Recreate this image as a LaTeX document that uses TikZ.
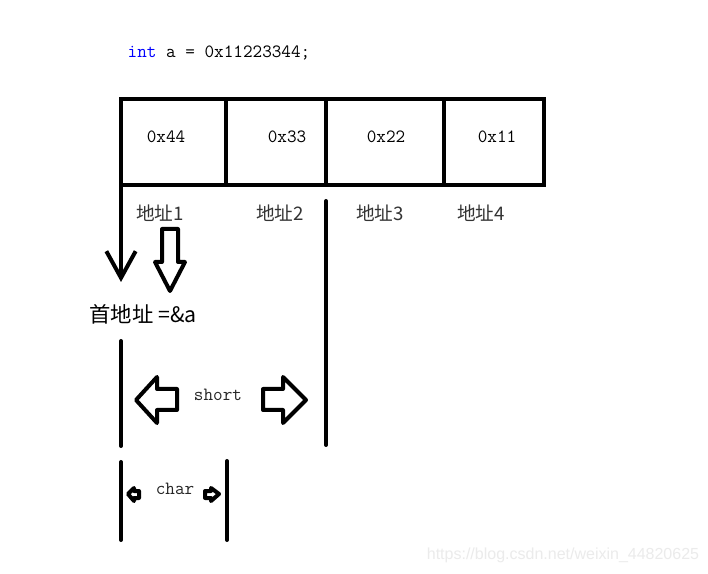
\documentclass[tikz,border=0pt]{standalone}
\usepackage{fontspec}
\newfontfamily\cjkfont{Noto Sans CJK SC}
\newfontfamily\urlfont{Liberation Sans}
\usetikzlibrary{arrows.meta}

\begin{document}
\begin{tikzpicture}[
      x=0.75pt, y=-0.75pt,
      thickline/.style={line width=3pt, line cap=round},
      hollow/.style={line width=3pt, line join=round},
      code/.style={font=\ttfamily\fontsize{14}{16}\selectfont, inner sep=0pt},
      hexval/.style={font=\ttfamily\fontsize{14}{16}\selectfont, inner sep=0pt},
      addr/.style={font=\cjkfont\fontsize{14}{16}\selectfont, inner sep=0pt, text=black!80},
      sizelabel/.style={font=\ttfamily\fontsize{14}{16}\selectfont, inner sep=0pt, text=black!85},
      arrow/.style={-{Straight Barb[length=20pt, width=22pt]}, line width=3pt}
    ]
    \fill[white] (0,0) rectangle (708,574);
    \useasboundingbox (0,0) rectangle (708,574);

    % declaration
    \node[code] (decl) at (219,53) {\textcolor{blue}{int} a = 0x11223344;};

    % memory cells
    \draw[line width=3.5pt] (121,99) rectangle (544,185);
    \draw[line width=3pt] (226,99) -- (226,185);
    \draw[line width=3pt] (326,99) -- (326,185);
    \draw[line width=3pt] (444,99) -- (444,185);

    \node[hexval] (b44) at (166,137) {0x44};
    \node[hexval] (b33) at (287,137) {0x33};
    \node[hexval] (b22) at (386,137) {0x22};
    \node[hexval] (b11) at (497,137) {0x11};

    \node[addr] (addr1) at (160,213) {地址1};
    \node[addr] (addr2) at (280,213) {地址2};
    \node[addr] (addr3) at (380,213) {地址3};
    \node[addr] (addr4) at (481,213) {地址4};

    % first address
    \coordinate (start) at (121,185);
    \coordinate (tip) at (121,282);
    \draw[arrow] (start) -- (tip);
    \draw[hollow] (162,229) -- (178,229) -- (178,262) -- (185,262) -- (170,291)
      -- (155,262) -- (162,262) -- cycle;
    \node[font=\cjkfont\fontsize{16}{18}\selectfont, inner sep=0pt] (first) at (143,314) {首地址 =\&a};

    % short
    \draw[thickline] (326,201) -- (326,445);
    \draw[thickline] (121,341) -- (121,446);
    \draw[hollow] (177,389) -- (177,410) -- (157,410) -- (157,423) -- (136,400)
      -- (157,377) -- (157,389) -- cycle;
    \draw[hollow] (263,389) -- (283,389) -- (283,377) -- (306,400) -- (283,423)
      -- (283,410) -- (263,410) -- cycle;
    \node[sizelabel] (short) at (218,395) {short};

    % char
    \draw[thickline] (121,462) -- (121,540);
    \draw[thickline] (227,461) -- (227,540);
    \draw[hollow] (128,494) -- (134,488) -- (134,491) -- (139,491) -- (139,498)
      -- (134,498) -- (134,501) -- cycle;
    \draw[hollow] (205,491) -- (211,491) -- (211,488) -- (219,494) -- (211,501)
      -- (211,498) -- (205,498) -- cycle;
    \node[sizelabel] (char) at (175,489) {char};

    \node[font=\urlfont\fontsize{12}{14}\selectfont, text=black!8, inner sep=0pt] (mark) at (563,555) {https://blog.csdn.net/weixin\_44820625};
  \end{tikzpicture}
\end{document}
